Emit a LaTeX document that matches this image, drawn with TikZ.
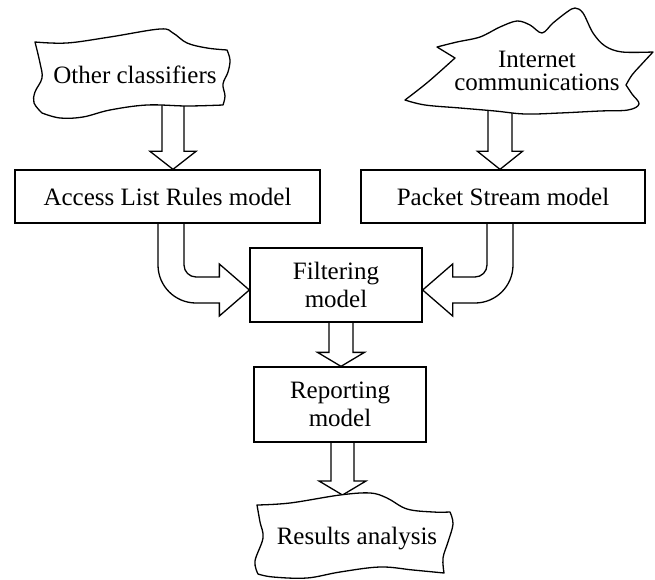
\documentclass[tikz,border=0pt]{standalone}
\usepackage{fontspec}
\setmainfont{Liberation Serif}
\usetikzlibrary{calc}
\pgfdeclarelayer{arrowlayer}
\pgfsetlayers{arrowlayer,main}

% straight block arrow pointing down: start, tip, half shaft, half head, head length
\newcommand\vblockarrow[5]{%
  \draw[blockarrow] let \p1=(#1), \p2=(#2) in
    ({\x1-#3},\y1) -- ({\x1-#3},{\y2+#5}) -- ({\x1-#4},{\y2+#5}) -- (\x1,\y2)
    -- ({\x1+#4},{\y2+#5}) -- ({\x1+#3},{\y2+#5}) -- ({\x1+#3},\y1);}

% bent block arrow: goes down from #1, turns and ends at the tip #2;
% #3 = 1 turns to the right, -1 turns to the left
\newcommand\bentblockarrow[3]{%
  \draw[blockarrow] let \p1=(#1), \p2=(#2) in
    ({\x1-(#3)*13pt},\y1)
    -- ({\x1-(#3)*13pt},{\y2+25pt})
    .. controls ({\x1-(#3)*13pt},{\y2+4pt}) and ({\x1+(#3)*4pt},{\y2-13pt}) .. ({\x1+(#3)*25pt},{\y2-13pt})
    -- ({\x2-(#3)*30pt},{\y2-13pt})
    -- ({\x2-(#3)*30pt},{\y2-26pt})
    -- (\x2,\y2)
    -- ({\x2-(#3)*30pt},{\y2+26pt})
    -- ({\x2-(#3)*30pt},{\y2+13pt})
    -- ({\x1+(#3)*25pt},{\y2+13pt})
    .. controls ({\x1+(#3)*18.4pt},{\y2+13pt}) and ({\x1+(#3)*13pt},{\y2+18.4pt}) .. ({\x1+(#3)*13pt},{\y2+25pt})
    -- ({\x1+(#3)*13pt},\y1);}

\tikzset{
  lbl/.style={font=\fontsize{25}{28}\selectfont, align=center, inner sep=0pt},
  modelbox/.style={lbl, draw, line width=1.3pt, fill=white},
  waveshape/.style={draw, line width=1.3pt, fill=white, line join=round},
  blockarrow/.style={draw, line width=1.3pt, line join=miter},
}

\begin{document}
\begin{tikzpicture}[x=1pt, y=-1pt]
\useasboundingbox (0,0) rectangle (655,580);

% wavy source: other classifiers
\draw[waveshape]
  plot[smooth, tension=0.6] coordinates {(35,42) (67,43) (110,37) (160,29) (173,33) (187,43) (207,48) (227,50)}
  -- plot[smooth, tension=0.6] coordinates {(227,50) (230,60) (228,72) (223,84) (225,96) (223,105)}
  -- plot[smooth, tension=0.6] coordinates {(223,105) (187,106) (147,105) (110,110) (83,117) (60,118) (42,113)}
  -- plot[smooth, tension=0.6] coordinates {(42,113) (34,103) (35,92) (42,78) (40,63) (35,42)}
  -- cycle;

% cloud: internet communications
\draw[waveshape]
  plot[smooth, tension=0.55] coordinates {(437,47) (457,42) (480,37) (500,27) (517,21) (530,25) (542,33) (553,23) (567,12) (575,8) (583,13) (593,33) (605,46) (622,52) (653,52)}
  -- plot[smooth, tension=0.6] coordinates {(653,52) (640,66) (632,75) (626,85)}
  -- plot[smooth, tension=0.6] coordinates {(626,85) (632,94) (639,104) (628,110) (600,111) (560,113) (525,114) (495,111) (460,108) (425,105) (405,100)}
  -- plot[smooth, tension=0.6] coordinates {(405,100) (428,82) (455,58)}
  -- cycle;

% wavy sink: results analysis
\draw[waveshape]
  plot[smooth, tension=0.6] coordinates {(257,505) (290,503) (340,495) (370,493) (387,498) (407,509) (433,512) (450,512)}
  -- plot[smooth, tension=0.6] coordinates {(450,512) (453,524) (448,542) (443,558) (444,573)}
  -- plot[smooth, tension=0.6] coordinates {(444,573) (413,570) (380,567) (340,572) (307,578) (273,577) (258,574)}
  -- plot[smooth, tension=0.6] coordinates {(258,574) (255,561) (263,538) (260,522) (257,505)}
  -- cycle;

% labels and model boxes
\node[lbl] (oc) at (135,75) {Other classifiers};
\node[lbl, font=\fontsize{25}{23.5}\selectfont] (ic) at (537,71) {Internet\\communications};
\node[modelbox, minimum width=305pt, minimum height=53pt] (alr) at (167.5,196.5) {Access List Rules model};
\node[modelbox, minimum width=284pt, minimum height=53pt] (ps) at (503,196.5) {Packet Stream model};
\node[modelbox, minimum width=172pt, minimum height=74pt] (filt) at (336,285) {Filtering\\model};
\node[modelbox, minimum width=172pt, minimum height=75pt] (rep) at (340,404.5) {Reporting\\model};
\node[lbl] (ra) at (357,539) {Results analysis};
\coordinate (ratop) at (342.5,495);

% block arrows behind the shapes
\begin{pgfonlayer}{arrowlayer}
  \vblockarrow{[xshift=38pt]oc.center}{alr.north}{11pt}{23pt}{18pt}
  \vblockarrow{[xshift=-37pt]ic.center}{ps.north}{12pt}{22.5pt}{18pt}
  \vblockarrow{[xshift=5pt]filt.south}{rep.north}{12pt}{23.5pt}{14pt}
  \vblockarrow{[xshift=2.5pt]rep.south}{ratop}{11.5pt}{23.5pt}{14pt}
  \bentblockarrow{[xshift=3.5pt]alr.south}{[yshift=-5pt]filt.west}{1}
  \bentblockarrow{[xshift=-3pt]ps.south}{[yshift=-5pt]filt.east}{-1}
\end{pgfonlayer}
\end{tikzpicture}
\end{document}
